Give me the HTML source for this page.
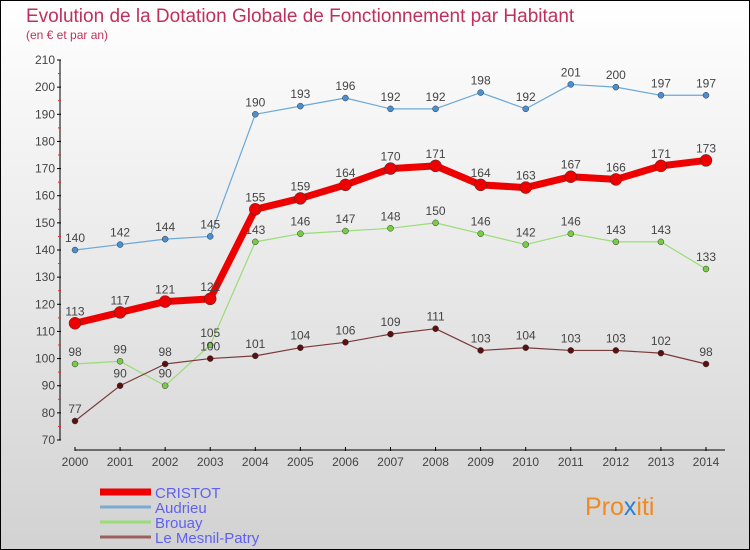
<!DOCTYPE html>
<html><head><meta charset="utf-8"><style>
body{margin:0}
svg{display:block;font-family:"Liberation Sans",sans-serif}
</style></head><body>
<svg id="c" width="750" height="550">
<defs><linearGradient id="bg" x1="0" y1="0" x2="0" y2="1"><stop offset="0" stop-color="#ffffff"/><stop offset="1" stop-color="#d2d2d2"/></linearGradient></defs>
<rect x="0.5" y="0.5" width="749" height="549" fill="url(#bg)" stroke="#000"/>
<text x="26" y="22" font-size="19" fill="#c0305a">Evolution de la Dotation Globale de Fonctionnement par Habitant</text>
<text x="26" y="39" font-size="12" fill="#c0305a">(en € et par an)</text>
<g id="axes"></g><g id="series"></g><g id="legend"></g>
<text x="585" y="515" font-size="25" fill="#f08a20">Pro<tspan fill="#2a7fd0">x</tspan>iti</text>
</svg>
<script>
const years=[2000,2001,2002,2003,2004,2005,2006,2007,2008,2009,2010,2011,2012,2013,2014];
const yTicks=[70,80,90,100,110,120,130,140,150,160,170,180,190,200,210];
const cristot=[113,117,121,122,155,159,164,170,171,164,163,167,166,171,173];
const audrieu=[140,142,144,145,190,193,196,192,192,198,192,201,200,197,197];
const brouay=[98,99,90,105,143,146,147,148,150,146,142,146,143,143,133];
const mesnil=[77,90,98,100,101,104,106,109,111,103,104,103,103,102,98];
const NS="http://www.w3.org/2000/svg";
function X(i){return 75+i*(706-75)/(years.length-1);}
function Y(v){return 440-(v-70)*380/140;}
function mk(t,a,p){const e=document.createElementNS(NS,t);for(const k in a)e.setAttribute(k,a[k]);(p||document.getElementById('series')).appendChild(e);return e;}
const ax=document.getElementById('axes');
let e=mk('line',{x1:60,y1:60,x2:60,y2:440,stroke:'#000'},ax);


yTicks.forEach((v,k)=>{
 mk('line',{x1:57,y1:Y(v),x2:61,y2:Y(v),stroke:'#000'},ax);
 if(k<yTicks.length-1) mk('line',{x1:58,y1:Y(v+5),x2:61,y2:Y(v+5),stroke:'#e03030'},ax);
 const t=mk('text',{x:55,y:Y(v)+4,'font-size':12,fill:'#444','text-anchor':'end'},ax);t.textContent=v;
 
 
});
e=mk('line',{x1:75,y1:450,x2:725,y2:450,stroke:'#000'},ax);


years.forEach((y,i)=>{
 mk('line',{x1:X(i),y1:447,x2:X(i),y2:451,stroke:'#000'},ax);
 const t=mk('text',{x:X(i),y:466,'font-size':12,fill:'#444','text-anchor':'middle'},ax);t.textContent=y;
 
 
});
function series(d,color,dot,w,r,name){
 const g=mk('g',{});
 
 
 mk('polyline',{points:d.map((v,i)=>X(i)+','+Y(v)).join(' '),fill:'none',stroke:color,'stroke-width':w,'stroke-linejoin':'round'},g);
 d.forEach((v,i)=>{
  const c=mk('circle',{cx:X(i),cy:Y(v),r:r,fill:dot,stroke:'#333','stroke-width':0.5},g);
  
  
  const t=mk('text',{x:X(i),y:Y(v)-8,'font-size':12,fill:'#444','text-anchor':'middle'},g);t.textContent=v;
  
  
 });
}
series(audrieu,'#6aa8d8','#4a90d0',1.2,3,'audrieu-series');
series(brouay,'#99dd77','#77cc44',1.2,3,'brouay-series');
series(mesnil,'#7a3a3a','#5a1010',1.2,3,'le-mesnil-patry-series');
series(cristot,'#ee0000','#ee0000',7,6,'cristot-series');
const lg=document.getElementById('legend');
const names=['CRISTOT','Audrieu','Brouay','Le Mesnil-Patry'];
const cols=['#ee0000','#7aaad0','#99dd77','#9a6060'];
const wid=[7,3,3,3];
names.forEach((n,i)=>{
 const yy=492+i*15;
 const g=mk('g',{},lg);
 
 
 mk('line',{x1:100,y1:yy,x2:151,y2:yy,stroke:cols[i],'stroke-width':wid[i]},g);
 const t=mk('text',{x:155,y:yy+6,'font-size':15,fill:'#6060ee'},g);t.textContent=n;
 
 
});
</script>
</body></html>
